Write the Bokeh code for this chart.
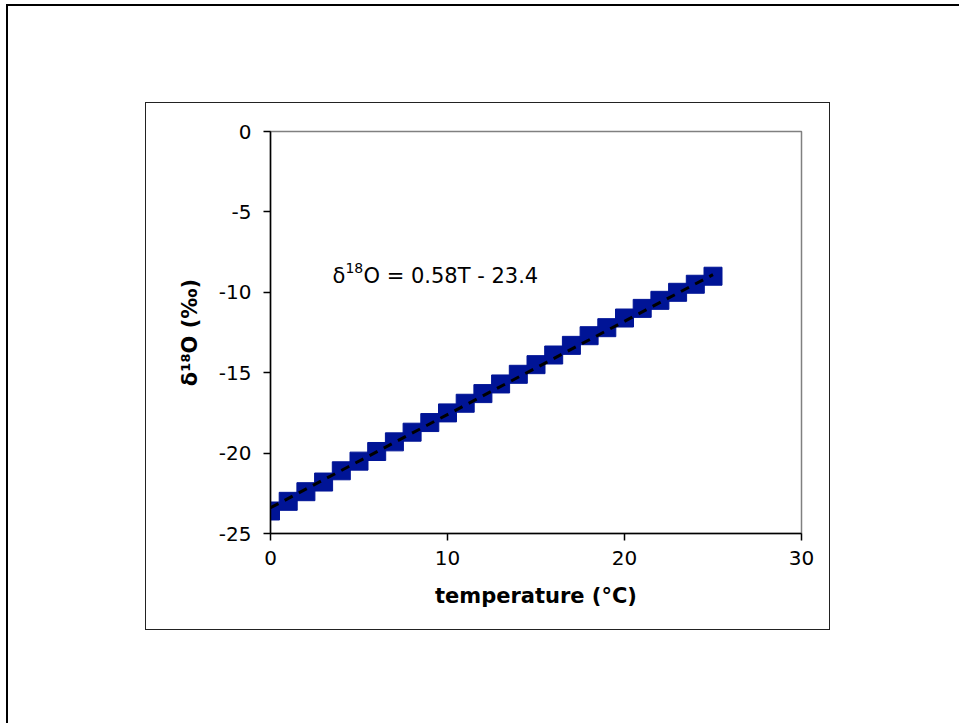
from bokeh.plotting import figure
from bokeh.models import Label, Range1d, FixedTicker, InlineStyleSheet
from bokeh.embed import file_html
from bokeh.resources import INLINE

# ---- data ----
temperature = [0, 1, 2, 3, 4, 5, 6, 7, 8, 9, 10, 11, 12,
               13, 14, 15, 16, 17, 18, 19, 20, 21, 22, 23, 24, 25]
delta18O = [-23.6, -23.0, -22.4, -21.8, -21.1, -20.5, -19.9, -19.3, -18.7,
            -18.1, -17.5, -16.9, -16.3, -15.7, -15.1, -14.5, -13.9, -13.3,
            -12.7, -12.2, -11.6, -11.0, -10.5, -10.0, -9.5, -9.0]
trend_slope = 0.58
trend_intercept = -23.4
trend_T = [0, 25]
x_ticks = [0, 10, 20, 30]
y_ticks = [0, -5, -10, -15, -20, -25]
y_tick_labels = ["0", "-5", "-10", "-15", "-20", "-25"]
equation_parts = ["δ", "18", "O = 0.58T - 23.4"]

FONT = "DejaVu Sans"

p = figure(width=959, height=723, output_backend="svg", toolbar_location=None,
           x_range=Range1d(0, 30), y_range=Range1d(-25, 0),
           min_border_left=270, min_border_right=158,
           min_border_top=131, min_border_bottom=190)
p.background_fill_color = "white"
p.border_fill_color = "white"
p.outline_line_color = "#808080"
p.outline_line_width = 1.5
p.grid.visible = False

for ax in (p.xaxis[0], p.yaxis[0]):
    ax.axis_line_color = "#000000"
    ax.axis_line_width = 1.5
    ax.major_tick_line_color = "#000000"
    ax.major_tick_line_width = 1.5
    ax.major_tick_in = 0
    ax.major_tick_out = 7
    ax.minor_tick_line_color = None
    ax.major_label_text_font = FONT
    ax.major_label_text_font_size = "20px"
    ax.major_label_text_color = "#000000"
    ax.axis_label_text_font = FONT
    ax.axis_label_text_font_size = "21px"
    ax.axis_label_text_font_style = "bold"
    ax.axis_label_text_color = "#000000"

p.xaxis.ticker = FixedTicker(ticks=x_ticks)
p.yaxis.ticker = FixedTicker(ticks=y_ticks)
p.yaxis.major_label_overrides = {float(v): s for v, s in zip(y_ticks, y_tick_labels)}
p.xaxis.major_label_standoff = 10
p.yaxis.major_label_standoff = 12
p.xaxis.axis_label = "temperature (°C)"
p.yaxis.axis_label = "δ¹⁸O (‰)"
p.xaxis.axis_label_standoff = 16
p.yaxis.axis_label_standoff = 14

# data squares
p.scatter(temperature, delta18O, marker="square", size=18,
          fill_color="#001496", line_color="#001496")

# trend line
trend_y = [trend_intercept + trend_slope * t for t in trend_T]
p.line(trend_T, trend_y, line_color="black", line_width=3, line_dash="9 7")

# equation label (delta, superscript 18, rest)
eq_x, eq_y = 3.5, -9.0
p.add_layout(Label(x=eq_x, y=eq_y, text=equation_parts[0], text_font=FONT,
                   text_font_size="21px", text_color="black",
                   text_baseline="alphabetic"))
p.add_layout(Label(x=eq_x, y=eq_y, x_offset=13, y_offset=8, text=equation_parts[1],
                   text_font=FONT, text_font_size="14px", text_color="black",
                   text_baseline="alphabetic"))
p.add_layout(Label(x=eq_x, y=eq_y, x_offset=31, text=equation_parts[2],
                   text_font=FONT, text_font_size="21px", text_color="black",
                   text_baseline="alphabetic"))

# chart-area and plot-area frames (decorative borders)
css = """
:host { position: relative; overflow: hidden; }
:host::before { content: ""; position: absolute; left: 6px; top: 4px;
  width: 3000px; height: 3000px; border-left: 2px solid #000; border-top: 2px solid #000;
  pointer-events: none; z-index: 5; }
:host::after { content: ""; position: absolute; left: 145px; top: 102px;
  width: 685px; height: 528px; box-sizing: border-box; border: 1.5px solid #222;
  pointer-events: none; z-index: 5; }
"""
p.stylesheets = [InlineStyleSheet(css=css)]

open("out.html", "w").write(file_html(p, INLINE))
